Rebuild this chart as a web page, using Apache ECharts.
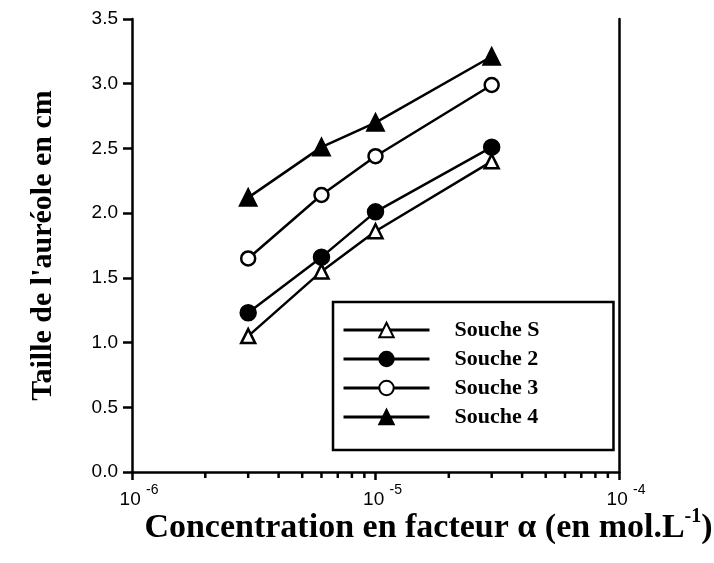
<!DOCTYPE html>
<html>
<head>
<meta charset="utf-8">
<script src="https://cdn.jsdelivr.net/npm/echarts@6/dist/echarts.min.js"></script>
<style>html,body{margin:0;padding:0;background:#fff;}#c{width:714px;height:563px;}</style>
</head>
<body>
<div id="c"></div>
<script>
// Data
var concentrations = [3e-6, 6e-6, 1e-5, 3e-5];
var seriesNames = ['Souche S', 'Souche 2', 'Souche 3', 'Souche 4'];
var soucheS = [1.05, 1.55, 1.86, 2.40];
var souche2 = [1.23, 1.66, 2.01, 2.51];
var souche3 = [1.65, 2.14, 2.44, 2.99];
var souche4 = [2.12, 2.51, 2.70, 3.21];
var yTicks = [0, 0.5, 1.0, 1.5, 2.0, 2.5, 3.0, 3.5];
var xMajorTicks = [1e-6, 1e-5, 1e-4];
var xMinorTicks = [2e-6, 3e-6, 4e-6, 5e-6, 6e-6, 7e-6, 8e-6, 9e-6,
                   2e-5, 3e-5, 4e-5, 5e-5, 6e-5, 7e-5, 8e-5, 9e-5];

function pairs(xs, ys) { return xs.map(function (x, i) { return [x, ys[i]]; }); }

var chart = echarts.init(document.getElementById('c'), null, {renderer: 'canvas'});
var black = '#000';
var lw = 2.5;

function lineSeries(name, values, symbol, fill, size) {
  return {
    name: name, type: 'line', data: pairs(concentrations, values),
    symbol: symbol, symbolSize: size, showSymbol: true,
    lineStyle: {color: black, width: lw},
    itemStyle: {color: fill, borderColor: black, borderWidth: 2.5, opacity: 1},
    emphasis: {disabled: true},
    z: 3
  };
}

var option = {
  animation: false,
  backgroundColor: '#fff',
  grid: {left: 132, right: 95, top: 19, bottom: 91, containLabel: false, outerBoundsMode: 'none'},
  xAxis: {
    type: 'log', logBase: 10, min: xMajorTicks[0], max: xMajorTicks[xMajorTicks.length - 1],
    axisLine: {show: true, lineStyle: {color: black, width: 2.5}},
    axisTick: {show: true, length: 8, lineStyle: {color: black, width: 2.5}},
    splitLine: {show: false},
    axisLabel: {
      margin: 11,
      formatter: function (v) {
        var e = Math.round(Math.log10(v));
        return '{b|10 }{s|' + e + '}';
      },
      rich: {
        b: {fontFamily: 'Liberation Sans', fontSize: 19, color: black, verticalAlign: 'bottom', lineHeight: 26, padding: [0, 0, 0, 14]},
        s: {fontFamily: 'Liberation Sans', fontSize: 14, color: black, verticalAlign: 'top', lineHeight: 26}
      }
    },
    name: '{a|Concentration en facteur α (en mol.L}{s|-1}{a|)}',
    nameLocation: 'middle',
    nameGap: 35,
    nameMoveOverlap: false,
    nameTextStyle: {
      padding: [0, 0, 0, 106],
      rich: {
        a: {fontFamily: 'Liberation Serif', fontWeight: 'bold', fontSize: 34, color: black, lineHeight: 38, verticalAlign: 'bottom'},
        s: {fontFamily: 'Liberation Serif', fontWeight: 'bold', fontSize: 20, color: black, lineHeight: 38, verticalAlign: 'top'}
      }
    }
  },
  yAxis: [{
    type: 'value', min: yTicks[0], max: yTicks[yTicks.length - 1], interval: 0.5,
    axisLine: {show: true, lineStyle: {color: black, width: 2.5}},
    axisTick: {show: true, length: 9, lineStyle: {color: black, width: 2.5}},
    splitLine: {show: false},
    axisLabel: {
      margin: 14, fontFamily: 'Liberation Sans', fontSize: 19, color: black,
      formatter: function (v) { return v.toFixed(1); }
    },
    name: "Taille de l'auréole en cm",
    nameLocation: 'middle',
    nameGap: 74,
    nameMoveOverlap: false,
    nameRotate: 90,
    nameTextStyle: {fontFamily: 'Liberation Serif', fontWeight: 'bold', fontSize: 30, color: black}
  }, {
    type: 'value', position: 'right', min: yTicks[0], max: yTicks[yTicks.length - 1], interval: 0.5,
    axisLine: {show: true, lineStyle: {color: black, width: 2.5}},
    axisTick: {show: false}, axisLabel: {show: false}, splitLine: {show: false}
  }],
  legend: {
    data: seriesNames,
    orient: 'vertical', left: 333, top: 302,
    padding: [17, 74, 22, 9],
    itemWidth: 86, itemHeight: 18, itemGap: 7,
    backgroundColor: '#fff', borderColor: black, borderWidth: 2.5, borderRadius: 0,
    lineStyle: {width: 3, color: black},
    textStyle: {fontFamily: 'Liberation Serif', fontWeight: 'bold', fontSize: 22, color: black, padding: [0, 0, 0, 20]},
    selectedMode: false
  },
  series: [
    lineSeries(seriesNames[0], soucheS, 'triangle', '#fff', 14),
    lineSeries(seriesNames[1], souche2, 'circle', black, 15),
    lineSeries(seriesNames[2], souche3, 'circle', '#fff', 14),
    lineSeries(seriesNames[3], souche4, 'triangle', black, 16),
    {
      name: 'minorTicks', type: 'custom', silent: true, clip: false, z: 2,
      data: xMinorTicks.map(function (v) { return [v, 0]; }),
      renderItem: function (params, api) {
        var p = api.coord([api.value(0), api.value(1)]);
        return {type: 'line', shape: {x1: p[0], y1: p[1], x2: p[0], y2: p[1] + 6},
                style: {stroke: black, lineWidth: 2.5}};
      }
    }
  ]
};
chart.setOption(option);
</script>
</body>
</html>
